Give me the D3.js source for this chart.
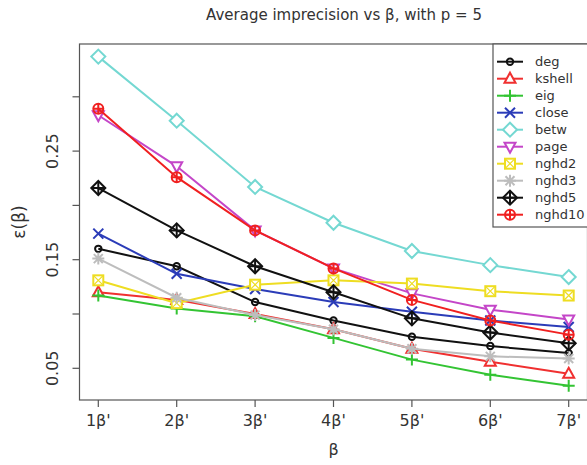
<!DOCTYPE html>
<html>
<head>
<meta charset="utf-8">
<script src="https://cdn.jsdelivr.net/npm/d3@7"></script>
<style>
  body { margin: 0; background: #fff; }
  text { font-family: "DejaVu Sans", sans-serif; fill: #333; }
</style>
</head>
<body>
<svg id="chart" width="587" height="465"></svg>
<script>
// values, one array per measure
var steps = [1, 2, 3, 4, 5, 6, 7]
var stepLabels = ["1β'", "2β'", "3β'", "4β'", "5β'", "6β'", "7β'"]
var yTicks = [0.05, 0.10, 0.15, 0.20, 0.25, 0.30]
var yLabels = [0.05, 0.15, 0.25]

var deg       = [0.160, 0.144, 0.111, 0.094, 0.079, 0.0705, 0.064]
var kshell    = [0.120, 0.113, 0.100, 0.086, 0.068, 0.056, 0.045]
var eig       = [0.117, 0.105, 0.098, 0.078, 0.058, 0.044, 0.034]
var closeness = [0.174, 0.137, 0.123, 0.111, 0.102, 0.094, 0.088]
var betw      = [0.337, 0.278, 0.217, 0.184, 0.158, 0.145, 0.134]
var page      = [0.283, 0.236, 0.177, 0.142, 0.119, 0.104, 0.095]
var nghd2     = [0.131, 0.110, 0.127, 0.131, 0.128, 0.121, 0.117]
var nghd3     = [0.151, 0.115, 0.099, 0.086, 0.068, 0.061, 0.059]
var nghd5     = [0.216, 0.177, 0.144, 0.120, 0.096, 0.083, 0.073]
var nghd10    = [0.289, 0.226, 0.177, 0.142, 0.113, 0.094, 0.081]

var names  = ["deg", "kshell", "eig", "close", "betw", "page", "nghd2", "nghd3", "nghd5", "nghd10"]
var values = [deg, kshell, eig, closeness, betw, page, nghd2, nghd3, nghd5, nghd10]
var colors = ["#111111", "#f03030", "#33c433", "#2b3cb8", "#74d8d2", "#c446c8", "#eedd22", "#bdbdbd", "#111111", "#f02020"]
var shapes = ["circle", "triangle", "plus", "cross", "diamond", "triangleDown", "squareX", "star", "diamondPlus", "circlePlus"]

var svg = d3.select("#chart")

// plot region (careful: "top" is taken by window)
var plotL = 79.5, plotR = 587.5, plotT = 44, plotB = 400
var x = d3.scaleLinear().domain([1, 7]).range([98.3, 568.7])
var y = d3.scaleLinear().domain([0.05, 0.30]).range([368.3, 96.8])

svg.append("rect")
  .attr("x", plotL).attr("y", plotT)
  .attr("width", plotR - plotL).attr("height", plotB - plotT)
  .attr("fill", "none").attr("stroke", "#555").attr("stroke-width", 1.2)

// y axis (R style, labels rotated)
svg.selectAll(".ytick").data(yTicks).enter().append("line")
  .attr("x1", plotL - 7).attr("x2", plotL)
  .attr("y1", d => y(d)).attr("y2", d => y(d))
  .attr("stroke", "#555").attr("stroke-width", 1.2)

svg.selectAll(".ylab").data(yLabels).enter().append("text")
  .attr("transform", d => "translate(58," + y(d) + ") rotate(-90)")
  .attr("text-anchor", "middle")
  .style("font-size", "16px")
  .text(d => d.toFixed(2))

// x axis
svg.selectAll(".xtick").data(steps).enter().append("line")
  .attr("x1", d => x(d)).attr("x2", d => x(d))
  .attr("y1", plotB).attr("y2", plotB + 7)
  .attr("stroke", "#555").attr("stroke-width", 1.2)

svg.selectAll(".xlab").data(steps).enter().append("text")
  .attr("x", d => x(d)).attr("y", 426)
  .attr("text-anchor", "middle")
  .style("font-size", "16px")
  .text((d, i) => stepLabels[i])

svg.append("text")
  .attr("x", (plotL + plotR) / 2).attr("y", 455)
  .attr("text-anchor", "middle").style("font-size", "16px")
  .text("β")

svg.append("text")
  .attr("transform", "translate(25," + ((plotT + plotB) / 2) + ") rotate(-90)")
  .attr("text-anchor", "middle").style("font-size", "17px")
  .text("ε(β)")

svg.append("text")
  .attr("x", 344).attr("y", 20)
  .attr("text-anchor", "middle").style("font-size", "15px")
  .text("Average imprecision vs β, with p = 5")

// point symbols, roughly like R's pch 1..10
function drawMark(g, shape, cx, cy, col) {
  var s = 5
  var p = g.append("g").attr("transform", "translate(" + cx + "," + cy + ")")
    .attr("fill", "none").attr("stroke", col).attr("stroke-width", 2)
  if (shape == "circle") p.append("circle").attr("r", 3.2)
  if (shape == "triangle") p.append("path").attr("d", "M0,-6L5.5,4L-5.5,4Z").attr("fill", "#fff")
  if (shape == "plus") p.append("path").attr("d", "M-6,0H6M0,-6V6")
  if (shape == "cross") p.append("path").attr("d", "M-5,-5L5,5M-5,5L5,-5")
  if (shape == "diamond") p.append("path").attr("d", "M0,-7L7,0L0,7L-7,0Z").attr("fill", "#fff")
  if (shape == "triangleDown") p.append("path").attr("d", "M0,6L5.5,-4L-5.5,-4Z").attr("fill", "#fff")
  if (shape == "squareX") {
    p.append("rect").attr("x", -s).attr("y", -s).attr("width", 2 * s).attr("height", 2 * s).attr("fill", "#fff")
    p.append("path").attr("d", "M-5,-5L5,5M-5,5L5,-5").attr("stroke-width", 1.2)
  }
  if (shape == "star") p.append("path").attr("d", "M-6,0H6M0,-6V6M-4.5,-4.5L4.5,4.5M-4.5,4.5L4.5,-4.5")
  if (shape == "diamondPlus") {
    p.append("path").attr("d", "M0,-7L7,0L0,7L-7,0Z")
    p.append("path").attr("d", "M-7,0H7M0,-7V7")
  }
  if (shape == "circlePlus") {
    p.append("circle").attr("r", 5)
    p.append("path").attr("d", "M-5,0H5M0,-5V5")
  }
}

var line = d3.line().x((d, i) => x(steps[i])).y(d => y(d))

for (var k = 0; k < names.length; k++) {
  svg.append("path")
    .attr("d", line(values[k]))
    .attr("fill", "none").attr("stroke", colors[k]).attr("stroke-width", 2)
  var g = svg.append("g")
  for (var i = 0; i < steps.length; i++) {
    drawMark(g, shapes[k], x(steps[i]), y(values[k][i]), colors[k])
  }
}

// legend box, sits against the top of the frame
var lg = svg.append("g")
lg.append("rect")
  .attr("x", 493).attr("y", plotT).attr("width", 100).attr("height", 183)
  .attr("fill", "#fff").attr("stroke", "#555").attr("stroke-width", 1.2)

for (var k = 0; k < names.length; k++) {
  var ly = 61.7 + k * 17
  lg.append("line")
    .attr("x1", 497).attr("x2", 523).attr("y1", ly).attr("y2", ly)
    .attr("stroke", colors[k]).attr("stroke-width", 2)
  drawMark(lg, shapes[k], 510, ly, colors[k])
  lg.append("text")
    .attr("x", 535).attr("y", ly + 4.5)
    .style("font-size", "13px")
    .text(names[k])
}
</script>
</body>
</html>
